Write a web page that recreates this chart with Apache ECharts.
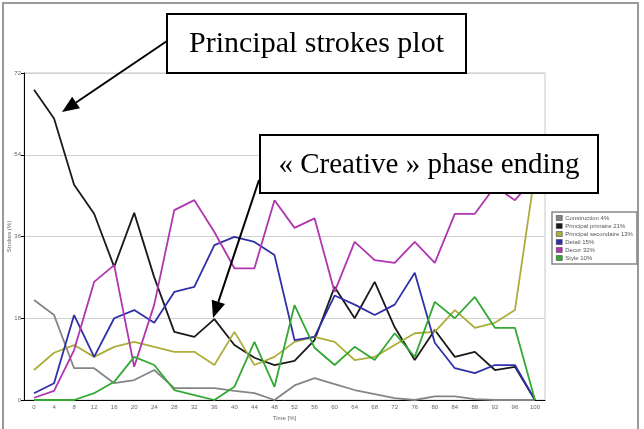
<!DOCTYPE html>
<html>
<head>
<meta charset="utf-8">
<script src="https://cdn.jsdelivr.net/npm/echarts@6/dist/echarts.min.js"></script>
<style>
  html, body { margin: 0; padding: 0; background: #fff; }
  #chart { width: 644px; height: 429px; }
</style>
</head>
<body>
<div id="chart"></div>
<script>
var timeLabels = ['0', '4', '8', '12', '16', '20', '24', '28', '32', '36', '40', '44', '48',
  '52', '56', '60', '64', '68', '72', '76', '80', '84', '88', '92', '96', '100']
var yTicks = [0, 18, 36, 54, 72]

var seriesNames = ['Construction 4%', 'Principal primaire 21%', 'Principal secondaire 13%',
  'Detail 15%', 'Decor 32%', 'Style 10%']

var construction = [22, 18.7, 7, 7, 3.7, 4.4, 6.6, 2.6, 2.6, 2.6, 2, 1.5, 0, 3.2, 4.8, 3.5,
  2.2, 1.3, 0.4, 0, 0.8, 0.8, 0.2, 0, 0, 0]
var principalPrimaire = [68.3, 62, 47.4, 41, 29.3, 41.2, 27, 15, 13.9, 17.8, 12.1, 9.3, 7.7,
  8.6, 13.2, 24.9, 18, 26, 16, 8.8, 15.4, 9.5, 10.6, 6.6, 7.3, 0]
var principalSecondaire = [6.6, 10.4, 12.1, 9.5, 11.7, 12.8, 11.7, 10.6, 10.6, 7.7, 15, 7.7,
  9.5, 12.8, 13.9, 12.8, 8.8, 9.5, 12.1, 14.7, 15, 19.8, 15.9, 17, 19.8, 50]
var detail = [1.5, 3.7, 18.7, 9.5, 18, 19.8, 17, 23.8, 24.9, 34.1, 35.9, 34.8, 31.9, 13.2,
  13.9, 23, 21, 18.7, 21, 28, 12.6, 7, 5.9, 7.7, 7.7, 0]
var decor = [0.5, 2, 11, 26, 29.7, 7.3, 21, 41.8, 44, 37, 29, 29, 44, 37.9, 40, 23.8, 34.8,
  30.8, 30.2, 34.8, 30.2, 41, 41, 47, 44, 49]
var style = [0, 0, 0, 1.5, 4, 9.5, 7.7, 2.2, 1.1, 0, 2.9, 12.8, 2.9, 20.9, 11.5, 7.7, 11.7,
  8.8, 14.7, 9.5, 21.6, 18, 22.7, 15.9, 15.9, 0]

var allData = [construction, principalPrimaire, principalSecondaire, detail, decor, style]
var colors = ['#858585', '#1a1a1a', '#adad3c', '#3030a8', '#b036b0', '#33a833']

// arrow = line + triangle head
function arrow(x1, y1, x2, y2) {
  var dx = x2 - x1, dy = y2 - y1
  var len = Math.sqrt(dx * dx + dy * dy)
  var ux = dx / len, uy = dy / len
  var headLen = 17, headW = 7
  var bx = x2 - ux * headLen, by = y2 - uy * headLen
  return [
    {
      type: 'line', z: 100,
      shape: { x1: x1, y1: y1, x2: bx, y2: by },
      style: { stroke: '#000', lineWidth: 2 }
    },
    {
      type: 'polygon', z: 100,
      shape: { points: [[x2, y2], [bx - uy * headW, by + ux * headW], [bx + uy * headW, by - ux * headW]] },
      style: { fill: '#000' }
    }
  ]
}

function textBox(x, y, w, h, text, size) {
  return [
    {
      type: 'rect', z: 100,
      shape: { x: x, y: y, width: w, height: h },
      style: { fill: '#fff', stroke: '#000', lineWidth: 2 }
    },
    {
      type: 'text', z: 101,
      x: x + w / 2, y: y + h / 2 + 1,
      style: {
        text: text, fill: '#000', align: 'center', verticalAlign: 'middle',
        font: size + 'px "Liberation Serif", "DejaVu Serif", serif'
      }
    }
  ]
}

var chartDom = echarts.init(document.getElementById('chart'))

var graphics = [
  {
    type: 'rect', z: -1,
    shape: { x: 3, y: 3, width: 635, height: 440 },
    style: { fill: 'none', stroke: '#999', lineWidth: 2 }
  }
]
graphics = graphics
  .concat(arrow(167, 41, 62, 112))
  .concat(textBox(167, 14, 299, 59, 'Principal strokes plot', 30))
  .concat(arrow(259, 180, 213, 318))
  .concat(textBox(260, 135, 338, 58, '« Creative » phase ending', 29))

chartDom.setOption({
  animation: false,
  color: colors,
  textStyle: { fontFamily: 'Arial, "Liberation Sans", sans-serif' },
  grid: {
    left: 24,
    right: 99,
    top: 73,
    bottom: 29,
    outerBoundsMode: 'none',
    containLabel: false,
    show: true,
    borderColor: '#c8c8c8',
    borderWidth: 1
  },
  legend: {
    orient: 'vertical',
    left: 552,
    top: 212,
    data: seriesNames,
    icon: 'rect',
    itemWidth: 6,
    itemHeight: 5,
    itemGap: 2,
    padding: [3, 4, 3, 4],
    borderColor: '#888',
    borderWidth: 1.5,
    itemStyle: { borderColor: '#333', borderWidth: 0.5 },
    textStyle: { fontSize: 6, color: '#555', padding: [0, 0, 0, -2] }
  },
  xAxis: {
    type: 'category',
    data: timeLabels,
    boundaryGap: true,
    name: 'Time [%]',
    nameLocation: 'middle',
    nameGap: 14,
    nameTextStyle: { fontSize: 6, color: '#666' },
    axisLine: { lineStyle: { color: '#000', width: 1 } },
    axisTick: { length: 3, lineStyle: { color: '#000' } },
    axisLabel: { interval: 0, fontSize: 6, color: '#666', margin: 4 },
    splitLine: { show: false }
  },
  yAxis: {
    type: 'value',
    min: yTicks[0],
    max: yTicks[yTicks.length - 1],
    interval: yTicks[1] - yTicks[0],
    name: 'Strokes (%)',
    nameLocation: 'middle',
    nameGap: 12,
    nameMoveOverlap: false,
    nameTextStyle: { fontSize: 6, color: '#666' },
    axisLine: { show: true, lineStyle: { color: '#000', width: 1 } },
    axisTick: { show: true, length: 3, lineStyle: { color: '#000' } },
    axisLabel: { fontSize: 6, color: '#666', margin: 3 },
    splitLine: { lineStyle: { color: '#d0d0d0', width: 1 } }
  },
  series: seriesNames.map(function (name, i) {
    return {
      name: name,
      type: 'line',
      data: allData[i],
      symbol: 'none',
      lineStyle: { width: 1.8 }
    }
  }),
  graphic: graphics
})
</script>
</body>
</html>
